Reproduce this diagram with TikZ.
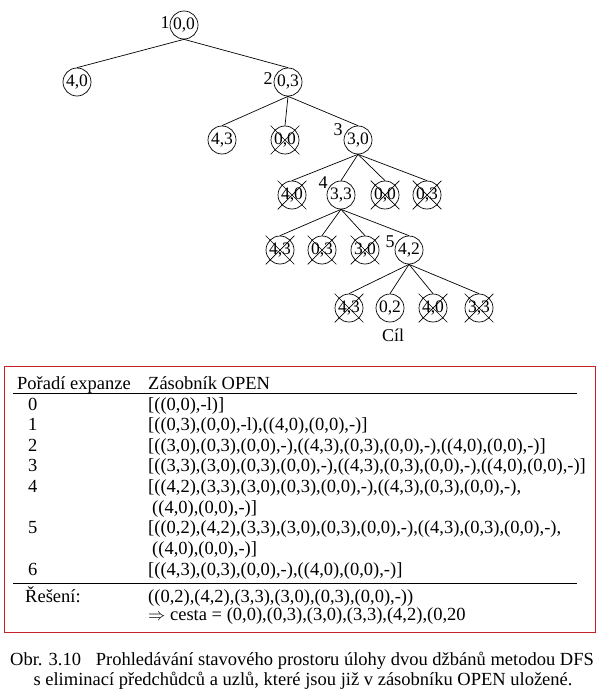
\documentclass[tikz,border=0pt]{standalone}
\usepackage{fontspec}
\setmainfont{Liberation Serif}
\definecolor{boxred}{RGB}{200,32,40}

\begin{document}
\begin{tikzpicture}[%
      x=1pt, y=-1pt, %
      state/.style={circle, draw=black, fill=white, inner sep=0pt,
        minimum size=28pt, line width=0.7pt, font=\fontsize{17.5}{20}\selectfont},
      num/.style={inner sep=0pt, font=\fontsize{18}{20}\selectfont},
      edge/.style={line width=0.7pt},
      txt/.style={anchor=base west, inner sep=0pt, font=\fontsize{18.5}{20.6}\selectfont}
      ]
      \useasboundingbox (0,0) rectangle (605,698);

      % Search tree
      \node[state] (n00) at (184,25) {0,0};
      \node[state] (n40) at (77,82) {4,0};
      \node[state] (n03) at (288,82) {0,3};
      \node[state] (n43) at (222,140) {4,3};
      \node[state] (n00b) at (285,140) {0,0};
      \node[state] (n30) at (358,140) {3,0};
      \node[state] (n40b) at (292,195) {4,0};
      \node[state] (n33) at (341,195) {3,3};
      \node[state] (n00c) at (385,195) {0,0};
      \node[state] (n03b) at (427,195) {0,3};
      \node[state] (n43b) at (280,250) {4,3};
      \node[state] (n03c) at (322,250) {0,3};
      \node[state] (n30b) at (365,250) {3,0};
      \node[state] (n42) at (409,250) {4,2};
      \node[state] (n43c) at (349,308) {4,3};
      \node[state] (n02) at (390,308) {0,2};
      \node[state] (n40c) at (433,308) {4,0};
      \node[state] (n33b) at (479,308) {3,3};

      \foreach \a/\b in {n00/n40, n00/n03, n03/n43, n03/n00b, n03/n30,
        n30/n40b, n30/n33, n30/n00c, n30/n03b,
        n33/n43b, n33/n03c, n33/n30b, n33/n42,
        n42/n43c, n42/n02, n42/n40c, n42/n33b}{
        \draw[edge] (\a.south) -- (\b.north);
      }

      % Eliminated nodes
      \foreach \n in {n00b, n40b, n00c, n03b, n43b, n03c, n30b, n43c, n40c, n33b}{
        \draw[edge] (\n.west |- \n.north) -- (\n.east |- \n.south);
        \draw[edge] (\n.west |- \n.south) -- (\n.east |- \n.north);
      }

      % Expansion order
      \node[num] (k1) at (165,23) {1};
      \node[num] (k2) at (268,79) {2};
      \node[num] (k3) at (338,130) {3};
      \node[num] (k4) at (323,183) {4};
      \node[num] (k5) at (390,242) {5};
      \node[num] (goal) at (393,335) {Cíl};

      % Table of the OPEN stack
      \draw[boxred, line width=1pt] (4,366) rectangle (595,632);
      \draw[line width=0.9pt] (13,393) -- (577,393);
      \draw[line width=0.9pt] (13,583) -- (577,583);

      \node[txt] (h1) at (17,389) {Pořadí expanze};
      \node[txt] (h2) at (148,389) {Zásobník OPEN};

      \node[txt] (o0) at (28,410) {0};
      \node[txt] (s0) at (148,410) {[((0,0),-l)]};
      \node[txt] (o1) at (28,430.6) {1};
      \node[txt] (s1) at (148,430.6) {[((0,3),(0,0),-l),((4,0),(0,0),-)]};
      \node[txt] (o2) at (28,451.2) {2};
      \node[txt] (s2) at (148,451.2) {[((3,0),(0,3),(0,0),-),((4,3),(0,3),(0,0),-),((4,0),(0,0),-)]};
      \node[txt] (o3) at (28,471.8) {3};
      \node[txt] (s3) at (148,471.8) {[((3,3),(3,0),(0,3),(0,0),-),((4,3),(0,3),(0,0),-),((4,0),(0,0),-)]};
      \node[txt] (o4) at (28,492.4) {4};
      \node[txt] (s4) at (148,492.4) {[((4,2),(3,3),(3,0),(0,3),(0,0),-),((4,3),(0,3),(0,0),-),};
      \node[txt] (s4b) at (152,513) {((4,0),(0,0),-)]};
      \node[txt] (o5) at (28,533.6) {5};
      \node[txt] (s5) at (148,533.6) {[((0,2),(4,2),(3,3),(3,0),(0,3),(0,0),-),((4,3),(0,3),(0,0),-),};
      \node[txt] (s5b) at (152,554.2) {((4,0),(0,0),-)]};
      \node[txt] (o6) at (28,575.5) {6};
      \node[txt] (s6) at (148,575.5) {[((4,3),(0,3),(0,0),-),((4,0),(0,0),-)]};

      % solution: base anchor sits on the last line
      \node[txt] (res) at (25,602) {Řešení:};
      \node[txt, align=left, font=\fontsize{18.5}{18.5}\selectfont] (sol) at (148,620.5)
        {((0,2),(4,2),(3,3),(3,0),(0,3),(0,0),-))\\
         $\Rightarrow$ cesta = (0,0),(0,3),(3,0),(3,3),(4,2),(0,20};

      % Caption
      \node[txt, anchor=base] (cap1) at (302,665) {Obr. 3.10\hspace{0.8em}Prohledávání stavového prostoru úlohy dvou džbánů metodou DFS};
      \node[txt, anchor=base] (cap2) at (303,685) {s eliminací předchůdců a uzlů, které jsou již v zásobníku OPEN uložené.};

    \end{tikzpicture}
\end{document}
